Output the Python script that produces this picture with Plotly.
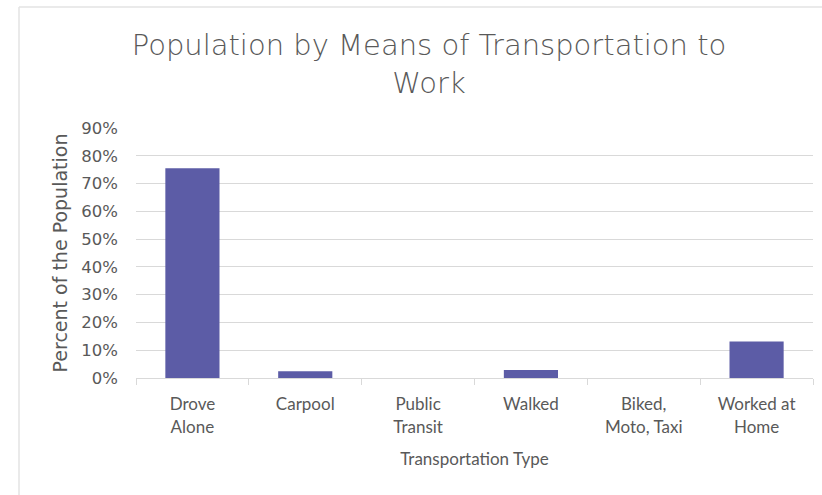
import plotly.graph_objects as go

# Commuting mode shares
categories = ["Drove<br>Alone", "Carpool", "Public<br>Transit", "Walked",
              "Biked,<br>Moto, Taxi", "Worked at<br>Home"]
shares = [0.755, 0.024, 0.0, 0.029, 0.0, 0.131]
y_ticks = [0.0, 0.1, 0.2, 0.3, 0.4, 0.5, 0.6, 0.7, 0.8, 0.9]
y_tick_labels = ["0%", "10%", "20%", "30%", "40%", "50%", "60%", "70%", "80%", "90%"]

W, H = 822, 495
L, R, T, B = 136, 9, 128, 117
TEXT = "#595959"
GRID = "#d9d9d9"
FONT = "Lato, 'Open Sans', sans-serif"
WIDE = "'DejaVu Sans', sans-serif"

fig = go.Figure(go.Bar(x=categories, y=shares, marker_color="#5c5ca6",
                       marker_line_width=0))

# outer chart frame (left and top edges)
pw, ph = W - L - R, H - T - B
def px(x):
    return (x - L) / pw
def py(y):
    return (H - B - y) / ph

frame = dict(type="line", xref="paper", yref="paper",
             line=dict(color="#e3e3e3", width=1.5))
shapes = [
    dict(frame, x0=px(19), x1=px(19), y0=py(7), y1=py(H)),
    dict(frame, x0=px(19), x1=px(W), y0=py(7), y1=py(7)),
]

fig.update_layout(
    width=W, height=H,
    margin=dict(l=L, r=R, t=T, b=B, autoexpand=False),
    paper_bgcolor="white", plot_bgcolor="white",
    bargap=0.52,
    showlegend=False,
    shapes=shapes,
    font=dict(family=FONT, color=TEXT),
    title=dict(text="Population by Means of Transportation to<br>Work",
               x=429 / W, xanchor="center", xref="container",
               y=1 - 55 / H, yanchor="middle", yref="container",
               font=dict(size=29, color=TEXT, family=WIDE, weight=200)),
    xaxis=dict(
        type="category",
        showgrid=False,
        showline=True, linecolor=GRID, linewidth=1,
        ticks="outside", tickson="boundaries", ticklen=6, tickcolor=GRID,
        ticklabelstandoff=11,
        tickfont=dict(size=17, color=TEXT),
        title=dict(text="Transportation Type", font=dict(size=17, color=TEXT),
                   standoff=17),
    ),
    yaxis=dict(
        range=[0, 0.9],
        tickvals=y_ticks, ticktext=y_tick_labels,
        showgrid=True, gridcolor=GRID, gridwidth=1,
        zeroline=False, showline=False,
        ticks="", ticklabelstandoff=17,
        tickfont=dict(size=16.5, color=TEXT, family=WIDE),
        title=dict(text="Percent of the Population",
                   font=dict(size=19, color=TEXT, family=WIDE), standoff=8),
    ),
)

fig.write_html("out.html")
